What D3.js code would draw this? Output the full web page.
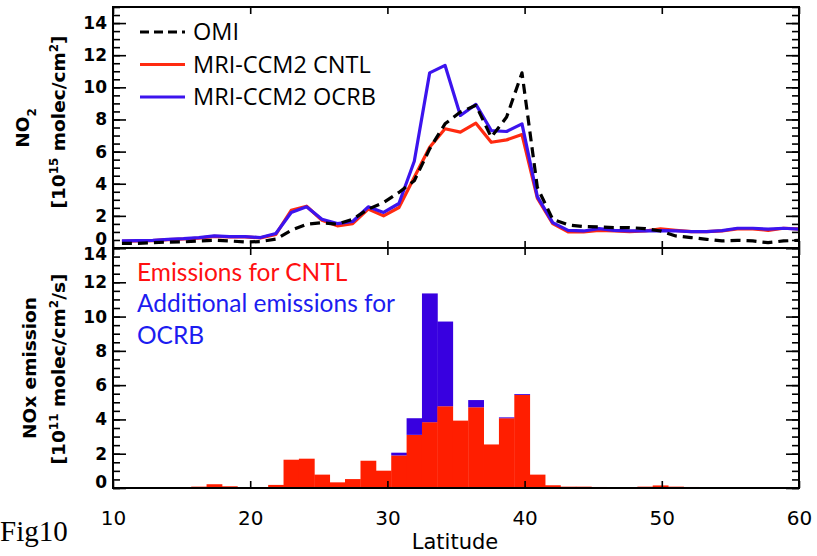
<!DOCTYPE html>
<html>
<head>
<meta charset="utf-8">
<script src="https://cdn.jsdelivr.net/npm/d3@7"></script>
<style>
  body { margin: 0; background: #fff; }
  svg { display: block; }
</style>
</head>
<body>
<div id="chart"></div>
<script>
// model grid latitudes (T106 gaussian)
const latitudes = [10.65, 11.77, 12.90, 14.02, 15.14, 16.26, 17.38, 18.50, 19.62, 20.75,
    21.87, 22.99, 24.11, 25.23, 26.35, 27.47, 28.60, 29.72, 30.84, 31.96,
    33.08, 34.20, 35.32, 36.45, 37.57, 38.69, 39.81, 40.93, 42.05, 43.17,
    44.30, 45.42, 46.54, 47.66, 48.78, 49.90, 51.02, 52.14, 53.27, 54.39,
    55.51, 56.63, 57.75, 58.87, 59.99];

// NO2 column [1e15 molec/cm2]
const omiNO2 = [0.29, 0.29, 0.33, 0.37, 0.38, 0.44, 0.48, 0.44, 0.37, 0.40,
    0.55, 1.10, 1.48, 1.58, 1.48, 1.79, 2.42, 2.83, 3.46, 4.19,
    6.17, 7.73, 8.46, 8.88, 6.90, 8.15, 10.90, 3.77, 1.79, 1.44,
    1.33, 1.31, 1.27, 1.27, 1.21, 1.06, 0.75, 0.65, 0.54, 0.44,
    0.48, 0.44, 0.33, 0.44, 0.48];
const cntlNO2 = [0.42, 0.44, 0.46, 0.52, 0.56, 0.62, 0.72, 0.69, 0.69, 0.63,
    0.85, 2.35, 2.60, 1.73, 1.38, 1.52, 2.42, 2.00, 2.52, 4.40,
    6.27, 7.42, 7.21, 7.77, 6.58, 6.73, 7.06, 3.10, 1.52, 1.00,
    1.00, 1.10, 1.06, 1.02, 1.06, 1.19, 1.10, 1.02, 1.02, 1.06,
    1.19, 1.19, 1.10, 1.23, 1.19];
const ocrbNO2 = [0.44, 0.46, 0.48, 0.54, 0.58, 0.65, 0.75, 0.71, 0.71, 0.65,
    0.90, 2.21, 2.56, 1.79, 1.52, 1.65, 2.56, 2.21, 2.77, 5.40,
    10.90, 11.37, 8.25, 8.94, 7.31, 7.25, 7.73, 3.20, 1.58, 1.10,
    1.06, 1.21, 1.10, 1.06, 1.06, 1.08, 1.06, 1.02, 1.02, 1.08,
    1.23, 1.23, 1.17, 1.23, 1.17];

// NOx emission [1e11 molec/cm2/s]
const cntlEmis = [0.02, 0.02, 0.03, 0.03, 0.05, 0.08, 0.22, 0.10, 0.03, 0.03,
    0.18, 1.65, 1.71, 0.78, 0.33, 0.52, 1.59, 1.01, 1.90, 3.10,
    3.84, 4.77, 3.93, 4.71, 2.54, 4.07, 5.43, 0.78, 0.16, 0.08,
    0.08, 0.06, 0.04, 0.05, 0.08, 0.15, 0.08, 0.06, 0.04, 0.03,
    0.03, 0.03, 0.03, 0.05, 0.05];
const extraEmis = [0, 0, 0, 0, 0, 0, 0, 0, 0, 0,
    0, 0, 0, 0, 0, 0, 0, 0, 0.16, 0.97,
    7.51, 4.94, 0, 0.42, 0, 0.05, 0.05, 0, 0, 0,
    0, 0, 0, 0, 0, 0, 0, 0, 0, 0,
    0, 0, 0, 0, 0];

const xTicks = [10, 20, 30, 40, 50, 60];
const yTicks = [0, 2, 4, 6, 8, 10, 12, 14];

const W = 817, H = 556;
const left = 113, right = 799;
const top1 = 7, bot1 = 248, bot2 = 488;
const cellWidth = 1.1214;

const svg = d3.select("#chart").append("svg")
    .attr("width", W).attr("height", H)
    .style("font-family", "'DejaVu Sans', sans-serif");

const x = d3.scaleLinear().domain([10, 60]).range([left, right]);
const yTop = d3.scaleLinear().domain([0, 15]).range([bot1, top1]);
const yBot = d3.scaleLinear().domain([0, 14]).range([bot2, bot1]);

const red = "#ff2a10", blue = "#3c14ee";

svg.append("clipPath").attr("id", "clipTop")
    .append("rect").attr("x", left).attr("y", top1).attr("width", right - left).attr("height", bot1 - top1);
svg.append("clipPath").attr("id", "clipBot")
    .append("rect").attr("x", left).attr("y", bot1).attr("width", right - left).attr("height", bot2 - bot1);

// ---- bottom panel: stacked emission bars
const bars = svg.append("g").attr("clip-path", "url(#clipBot)");
latitudes.forEach((lat, i) => {
    const x0 = x(lat - cellWidth / 2), x1 = x(lat + cellWidth / 2);
    bars.append("rect")
        .attr("x", x0).attr("width", x1 - x0 + 0.4)
        .attr("y", yBot(cntlEmis[i])).attr("height", yBot(0) - yBot(cntlEmis[i]))
        .attr("fill", "#ff1e00");
    if (extraEmis[i] > 0) {
        const t = cntlEmis[i] + extraEmis[i];
        bars.append("rect")
            .attr("x", x0).attr("width", x1 - x0 + 0.4)
            .attr("y", yBot(t)).attr("height", yBot(cntlEmis[i]) - yBot(t))
            .attr("fill", "#3800e0");
    }
});

// ---- top panel: NO2 lines
const lines = svg.append("g").attr("clip-path", "url(#clipTop)");
function drawLine(vals, color, dash) {
    const line = d3.line().x((d, i) => x(latitudes[i])).y(d => yTop(d));
    lines.append("path").datum(vals)
        .attr("fill", "none").attr("stroke", color)
        .attr("stroke-width", 3.2)
        .attr("stroke-linejoin", "round")
        .attr("stroke-dasharray", dash || null)
        .attr("d", line);
}
drawLine(cntlNO2, red);
drawLine(ocrbNO2, blue);
drawLine(omiNO2, "#000", "10,6");

// ---- axes
function styleAxis(g) {
    g.select(".domain").remove();
    g.selectAll(".tick line").attr("stroke", "#000").attr("stroke-width", 1.6);
}
function yAxes(scale, maxV, nudge) {
    const minor = d3.range(0, maxV + 0.01, 0.5);
    svg.append("g").attr("transform", `translate(${left},0)`)
        .call(d3.axisLeft(scale).tickValues(minor).tickSizeInner(-7).tickSizeOuter(0).tickFormat(""))
        .call(styleAxis);
    svg.append("g").attr("transform", `translate(${right},0)`)
        .call(d3.axisRight(scale).tickValues(minor).tickSizeInner(-7).tickSizeOuter(0).tickFormat(""))
        .call(styleAxis);
    svg.append("g").attr("transform", `translate(${right},0)`)
        .call(d3.axisRight(scale).tickValues(yTicks).tickSizeInner(-13).tickSizeOuter(0).tickFormat(""))
        .call(styleAxis);
    const ga = svg.append("g").attr("transform", `translate(${left},0)`)
        .call(d3.axisLeft(scale).tickValues(yTicks).tickSizeInner(-13).tickSizeOuter(0).tickPadding(6))
        .call(styleAxis);
    ga.selectAll(".tick text")
        .attr("font-family", "'DejaVu Sans', sans-serif")
        .attr("font-size", 17).attr("font-weight", "bold").attr("fill", "#000")
        .attr("transform", d => `translate(0,${nudge[d] || 0})`);
}
yAxes(yTop, 15, { 0: -9 });
yAxes(yBot, 14, { 14: 6, 0: -6 });

function xAxis(yPos, dir, labels) {
    const ax = dir === "bottom" ? d3.axisBottom(x) : d3.axisTop(x);
    const g = svg.append("g").attr("transform", `translate(0,${yPos})`)
        .call(ax.tickValues(xTicks).tickSizeInner(-7).tickSizeOuter(0)
            .tickPadding(23).tickFormat(labels ? d3.format("d") : ""))
        .call(styleAxis);
    g.selectAll(".tick text").attr("font-family", "'DejaVu Sans', sans-serif")
        .attr("font-size", 20).attr("fill", "#000");
}
xAxis(top1, "top", false);
xAxis(bot1, "bottom", false);
xAxis(bot1, "top", false);
xAxis(bot2, "bottom", true);

// frames
[[top1, bot1], [bot1, bot2]].forEach(([a, b]) => {
    svg.append("rect").attr("x", left).attr("y", a)
        .attr("width", right - left).attr("height", b - a)
        .attr("fill", "none").attr("stroke", "#000").attr("stroke-width", 2);
});

// ---- y titles
function yTitle(cx, cy, parts) {
    const t = svg.append("text")
        .attr("transform", `translate(${cx},${cy}) rotate(-90)`)
        .attr("text-anchor", "middle").attr("dy", "0.35em")
        .attr("font-size", 18.5).attr("font-weight", "bold");
    parts.forEach(p => {
        const s = t.append("tspan").text(p.t);
        if (p.sup) s.attr("baseline-shift", "super").attr("font-size", 12);
        if (p.sub) s.attr("baseline-shift", "sub").attr("font-size", 12);
    });
}
yTitle(23, 128, [{ t: "NO" }, { t: "2", sub: true }]);
yTitle(59, 122, [{ t: "[10" }, { t: "15", sup: true }, { t: "  molec/cm" }, { t: "2", sup: true }, { t: "]" }]);
yTitle(30, 368, [{ t: "NOx emission" }]);
yTitle(59, 369, [{ t: "[10" }, { t: "11", sup: true }, { t: "  molec/cm" }, { t: "2", sup: true }, { t: "/s]" }]);

// ---- top legend
const legendTop = [
    { name: "OMI", color: "#000", dash: "9,5" },
    { name: "MRI-CCM2 CNTL", color: red },
    { name: "MRI-CCM2 OCRB", color: blue }
];
legendTop.forEach((d, i) => {
    const ly = 32 + i * 32.5;
    svg.append("line").attr("x1", 140).attr("x2", 185).attr("y1", ly).attr("y2", ly)
        .attr("stroke", d.color).attr("stroke-width", 3.2)
        .attr("stroke-dasharray", d.dash || null);
    svg.append("text").attr("x", 193).attr("y", ly).attr("dy", "0.35em")
        .attr("font-family", "'Open Sans', sans-serif").attr("font-size", 23.5)
        .attr("fill", "#000").text(d.name);
});

// ---- bottom legend
const legendBot = [
    { t: "Emissions for CNTL", c: "#ff1010" },
    { t: "Additional emissions for", c: "#1c1cf0" },
    { t: "OCRB", c: "#1c1cf0" }
];
legendBot.forEach((d, i) => {
    svg.append("text").attr("x", 137).attr("y", 272 + i * 31.5).attr("dy", "0.35em")
        .attr("font-family", "Lato, sans-serif").attr("font-size", 24.5)
        .attr("fill", d.c).text(d.t);
});

// x title and figure tag
svg.append("text").attr("x", 455).attr("y", 542).attr("dy", "0.35em")
    .attr("text-anchor", "middle").attr("font-size", 21)
    .text("Latitude");
svg.append("text").attr("x", 0).attr("y", 541)
    .attr("font-family", "'Liberation Serif', serif").attr("font-size", 29)
    .text("Fig10");
</script>
</body>
</html>
